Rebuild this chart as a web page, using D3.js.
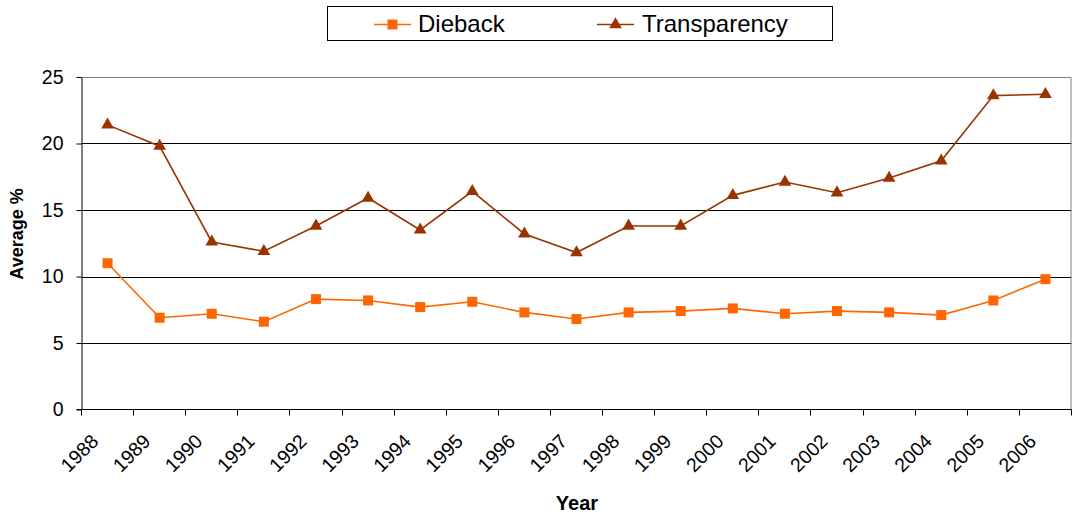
<!DOCTYPE html>
<html>
<head>
<meta charset="utf-8">
<script src="https://cdnjs.cloudflare.com/ajax/libs/d3/7.8.5/d3.min.js"></script>
<style>
  html, body { margin: 0; padding: 0; background: #fff; }
  svg { display: block; font-family: "Liberation Sans", Arial, sans-serif; }
</style>
</head>
<body>
<svg id="chart" width="1077" height="518"></svg>
<script>
const years = ["1988","1989","1990","1991","1992","1993","1994","1995","1996","1997","1998","1999","2000","2001","2002","2003","2004","2005","2006"];
const dieback = [11.0, 6.9, 7.2, 6.6, 8.3, 8.2, 7.7, 8.1, 7.3, 6.8, 7.3, 7.4, 7.6, 7.2, 7.4, 7.3, 7.1, 8.2, 9.8];
const transparency = [21.4, 19.8, 12.6, 11.9, 13.8, 15.9, 13.5, 16.4, 13.2, 11.8, 13.8, 13.8, 16.1, 17.1, 16.3, 17.4, 18.7, 23.6, 23.7];
const yTicks = [0, 5, 10, 15, 20, 25];
const seriesNames = ["Dieback", "Transparency"];

(function () {
const svg = d3.select("#chart");
const pLeft = 81.5, pRight = 1071.5, pTop = 77, pBottom = 409.5;

const x = d3.scaleBand().domain(years).range([pLeft, pRight]).padding(0);
const y = d3.scaleLinear().domain([0, 25]).range([pBottom, pTop]);
const cx = d => x(d) + x.bandwidth() / 2;

// gridlines
svg.append("g").selectAll("line").data(yTicks.filter(t => t > 0 && t < 25)).join("line")
  .attr("x1", pLeft).attr("x2", pRight)
  .attr("y1", d => Math.round(y(d)) + 0.5).attr("y2", d => Math.round(y(d)) + 0.5)
  .attr("stroke", "#000").attr("stroke-width", 1);

// plot border top/right (gray)
svg.append("path")
  .attr("d", `M${pLeft},${pTop + 0.5}H${pRight - 0.5}V${pBottom}`)
  .attr("fill", "none").attr("stroke", "#808080").attr("stroke-width", 1);

// y axis
const yAxis = d3.axisLeft(y).tickValues(yTicks).tickSize(5).tickPadding(13).tickSizeOuter(0);
const gy = svg.append("g").attr("transform", `translate(${pLeft},0)`).call(yAxis);
gy.select(".domain").attr("stroke", "#000");
gy.selectAll(".tick line").attr("stroke", "#000");
gy.selectAll(".tick text").attr("font-size", "19.5px").attr("fill", "#000")
  .attr("font-family", "Liberation Sans, Arial, sans-serif");

// x axis line
svg.append("line").attr("x1", pLeft - 5).attr("x2", pRight).attr("y1", pBottom).attr("y2", pBottom)
  .attr("stroke", "#000").attr("stroke-width", 1);
// x ticks at category boundaries
const bounds = years.map(d => x(d)).concat([pRight]);
svg.append("g").selectAll("line").data(bounds).join("line")
  .attr("x1", d => Math.round(d - 0.5) + 0.5).attr("x2", d => Math.round(d - 0.5) + 0.5)
  .attr("y1", pBottom).attr("y2", pBottom + 6)
  .attr("stroke", "#000").attr("stroke-width", 1);
// x labels
svg.append("g").selectAll("text").data(years).join("text")
  .attr("transform", d => `translate(${cx(d) - 8},${pBottom + 33}) rotate(-45)`)
  .attr("text-anchor", "end")
  .attr("font-size", "19.5px").attr("fill", "#000")
  .text(d => d);

// axis titles
svg.append("text").attr("x", 577).attr("y", 510).attr("text-anchor", "middle")
  .attr("font-size", "20px").attr("font-weight", "bold").text("Year");
svg.append("text").attr("transform", `translate(23,234) rotate(-90)`).attr("text-anchor", "middle")
  .attr("font-size", "18px").attr("font-weight", "bold").text("Average %");

// series
const line = d3.line().x((d, i) => cx(years[i])).y(d => y(d));
const colD = "#FF6600", colT = "#993300";
svg.append("path").datum(transparency).attr("d", line).attr("fill", "none")
  .attr("stroke", colT).attr("stroke-width", 1.6);
svg.append("path").datum(dieback).attr("d", line).attr("fill", "none")
  .attr("stroke", colD).attr("stroke-width", 1.6);

const tri = d3.symbol().type(d3.symbolTriangle).size(70);
svg.append("g").selectAll("path").data(transparency).join("path")
  .attr("transform", (d, i) => `translate(${cx(years[i])},${y(d)})`)
  .attr("d", tri).attr("fill", colT);
svg.append("g").selectAll("rect").data(dieback).join("rect")
  .attr("x", (d, i) => cx(years[i]) - 5).attr("y", d => y(d) - 5)
  .attr("width", 10).attr("height", 10).attr("fill", colD);

// legend
const lg = svg.append("g");
lg.append("rect").attr("x", 327.5).attr("y", 6.5).attr("width", 505).attr("height", 34)
  .attr("fill", "#fff").attr("stroke", "#000").attr("stroke-width", 1);
const legendItems = [
  { name: seriesNames[0], color: colD, lx: 374, tx: 418, marker: "square" },
  { name: seriesNames[1], color: colT, lx: 597, tx: 642, marker: "triangle" }
];
legendItems.forEach(it => {
  lg.append("line").attr("x1", it.lx).attr("x2", it.lx + 37).attr("y1", 24.5).attr("y2", 24.5)
    .attr("stroke", it.color).attr("stroke-width", 1.6);
  if (it.marker === "square") {
    lg.append("rect").attr("x", it.lx + 13.5).attr("y", 19.5).attr("width", 10).attr("height", 10).attr("fill", it.color);
  } else {
    lg.append("path").attr("transform", `translate(${it.lx + 18.5},24.5)`).attr("d", tri).attr("fill", it.color);
  }
  lg.append("text").attr("x", it.tx).attr("y", 32).attr("font-size", "24px").attr("fill", "#000").text(it.name);
});
})();
</script>
</body>
</html>
